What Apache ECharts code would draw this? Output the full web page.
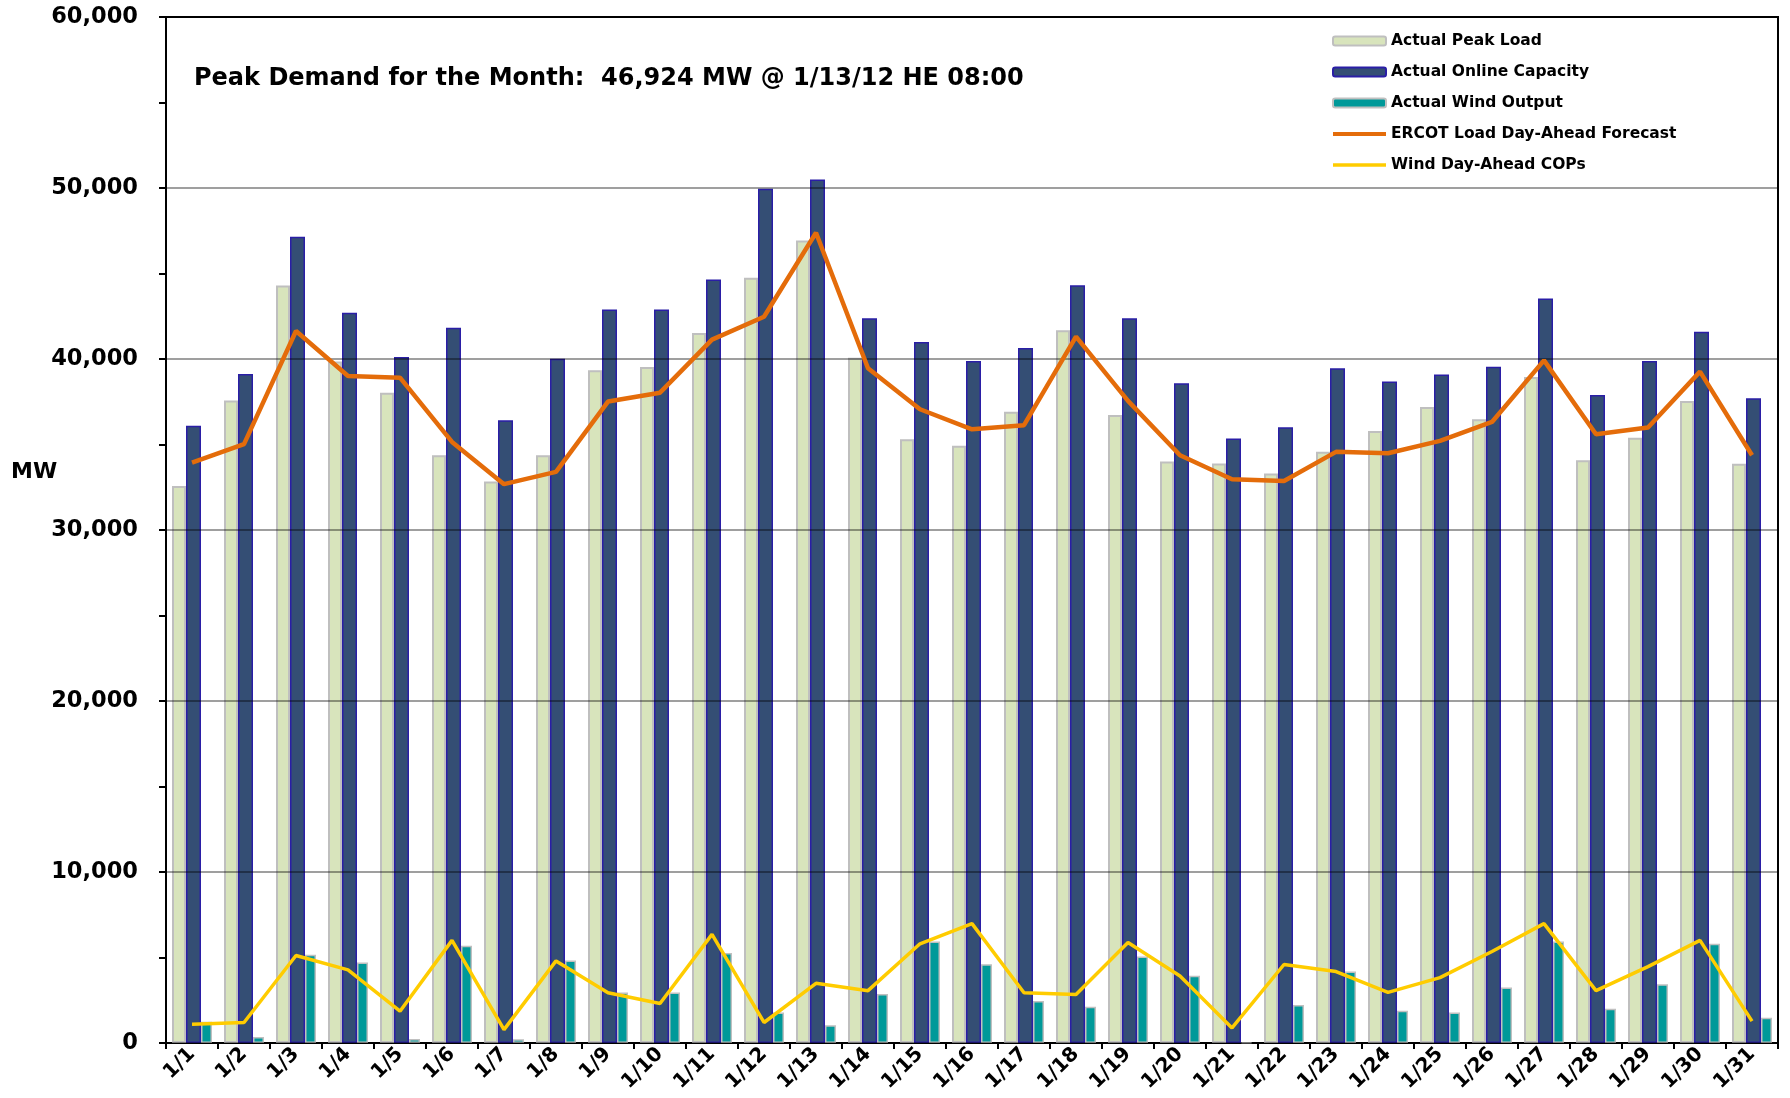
<!DOCTYPE html>
<html>
<head>
<meta charset="utf-8">
<script src="https://cdn.jsdelivr.net/npm/echarts@6/dist/echarts.min.js"></script>
<style>
  html, body { margin: 0; padding: 0; background: #fff; }
  #chart { width: 1790px; height: 1098px; }
</style>
</head>
<body>
<div id="chart"></div>
<script>
const categories = ["1/1", "1/2", "1/3", "1/4", "1/5", "1/6", "1/7", "1/8", "1/9", "1/10",
  "1/11", "1/12", "1/13", "1/14", "1/15", "1/16", "1/17", "1/18", "1/19", "1/20",
  "1/21", "1/22", "1/23", "1/24", "1/25", "1/26", "1/27", "1/28", "1/29", "1/30", "1/31"];

const peakLoad = [32580, 37580, 44300, 39860, 38030, 34370, 32830, 34370, 39340, 39530,
  41520, 44750, 46924, 40080, 35310, 34920, 36920, 41680, 36730, 34000,
  33890, 33310, 34570, 35790, 37200, 36480, 38950, 34080, 35390, 37550, 33870];

const onlineCapacity = [36100, 39120, 47150, 42710, 40120, 41830, 36420, 40020, 42900, 42900,
  44650, 49950, 50500, 42380, 40990, 39880, 40640, 44320, 42380, 38580,
  35350, 36010, 39460, 38680, 39100, 39550, 43540, 37900, 39880, 41600, 37700];

const windOutput = [1240, 350, 5160, 4710, 240, 5690, 220, 4820, 2960, 2960,
  5260, 1780, 1040, 2860, 5940, 4610, 2450, 2120, 5060, 3940,
  40, 2220, 4180, 1880, 1780, 3240, 5940, 2000, 3430, 5800, 1470];

const loadForecast = [33940, 35020, 41640, 39010, 38910, 35150, 32680, 33400, 37510, 38030,
  41130, 42470, 47380, 39460, 37060, 35890, 36130, 41310, 37550, 34370,
  32970, 32870, 34570, 34490, 35210, 36320, 39920, 35600, 35990, 39260, 34370];

const windCOPs = [1100, 1200, 5120, 4280, 1860, 6000, 780, 4800, 2940, 2310,
  6350, 1200, 3490, 3060, 5800, 6980, 2940, 2840, 5880, 3920,
  880, 4590, 4180, 2960, 3820, 5350, 6980, 3060, 4470, 6000, 1280];

const font = "DejaVu Sans";

const chart = echarts.init(document.getElementById("chart"));

chart.setOption({
  animation: false,
  backgroundColor: "#fff",
  title: {
    text: "Peak Demand for the Month:  46,924 MW @ 1/13/12 HE 08:00",
    left: 189,
    top: 62,
    textStyle: { fontFamily: font, fontWeight: "bold", fontSize: 24, color: "#000" },
  },
  graphic: [
    {
      type: "text",
      left: 11,
      top: 461,
      style: { text: "MW", font: "bold 22px 'DejaVu Sans'", fill: "#000" },
    },
  ],
  legend: {
    orient: "vertical",
    left: 1326,
    top: 27,
    itemWidth: 53,
    itemHeight: 9,
    itemGap: 13,
    textStyle: { fontFamily: font, fontWeight: "bold", fontSize: 15.5, color: "#000", lineHeight: 18 },
    data: [
      "Actual Peak Load",
      "Actual Online Capacity",
      "Actual Wind Output",
      { name: "ERCOT Load Day-Ahead Forecast", itemStyle: { opacity: 0 }, lineStyle: { width: 4 } },
      { name: "Wind Day-Ahead COPs", itemStyle: { opacity: 0 }, lineStyle: { width: 3.5 } },
    ],
  },
  grid: {
    left: 166,
    right: 12,
    top: 17,
    bottom: 55,
    show: true,
    borderColor: "#000",
    borderWidth: 2,
  },
  xAxis: {
    type: "category",
    data: categories,
    axisLine: { lineStyle: { color: "#000", width: 2 } },
    axisTick: { show: true, length: 6, lineStyle: { color: "#000", width: 2 } },
    axisLabel: {
      rotate: 45,
      margin: 8,
      color: "#000",
      fontFamily: font,
      fontWeight: "bold",
      fontSize: 20,
      interval: 0,
    },
  },
  yAxis: {
    type: "value",
    min: 0,
    max: 60000,
    interval: 10000,
    z: 3,
    axisLine: { show: true, lineStyle: { color: "#000", width: 2 } },
    axisTick: { show: true, length: 7, lineStyle: { color: "#000", width: 2 } },
    minorTick: { show: true, splitNumber: 2, length: 7, lineStyle: { color: "#000", width: 2 } },
    splitLine: { lineStyle: { color: "rgba(0,0,0,0.5)", width: 1.5 } },
    axisLabel: {
      margin: 28,
      color: "#000",
      fontFamily: font,
      fontWeight: "bold",
      fontSize: 22.5,
      formatter: (v) => v.toLocaleString("en-US"),
    },
  },
  series: [
    {
      name: "Actual Peak Load",
      type: "bar",
      data: peakLoad,
      barWidth: 14,
      barGap: "0%",
      itemStyle: { color: "#d8e4bc", borderColor: "#bfbfbf", borderWidth: 2 },
    },
    {
      name: "Actual Online Capacity",
      type: "bar",
      data: onlineCapacity,
      barWidth: 15,
      barGap: "0%",
      itemStyle: { color: "#344e74", borderColor: "#2a1ea6", borderWidth: 1.5 },
    },
    {
      name: "Actual Wind Output",
      type: "bar",
      data: windOutput,
      barWidth: 11,
      barGap: "0%",
      itemStyle: { color: "#009999", borderColor: "#c0c0c0", borderWidth: 1.5 },
    },
    {
      name: "ERCOT Load Day-Ahead Forecast",
      type: "line",
      data: loadForecast,
      symbol: "none",
      z: 5,
      lineStyle: { color: "#e46c0a", width: 4.5 },
      itemStyle: { color: "#e46c0a" },
    },
    {
      name: "Wind Day-Ahead COPs",
      type: "line",
      data: windCOPs,
      symbol: "none",
      z: 5,
      lineStyle: { color: "#ffcc00", width: 3.5 },
      itemStyle: { color: "#ffcc00" },
    },
  ],
});

window.addEventListener("resize", () => chart.resize());
</script>
</body>
</html>
